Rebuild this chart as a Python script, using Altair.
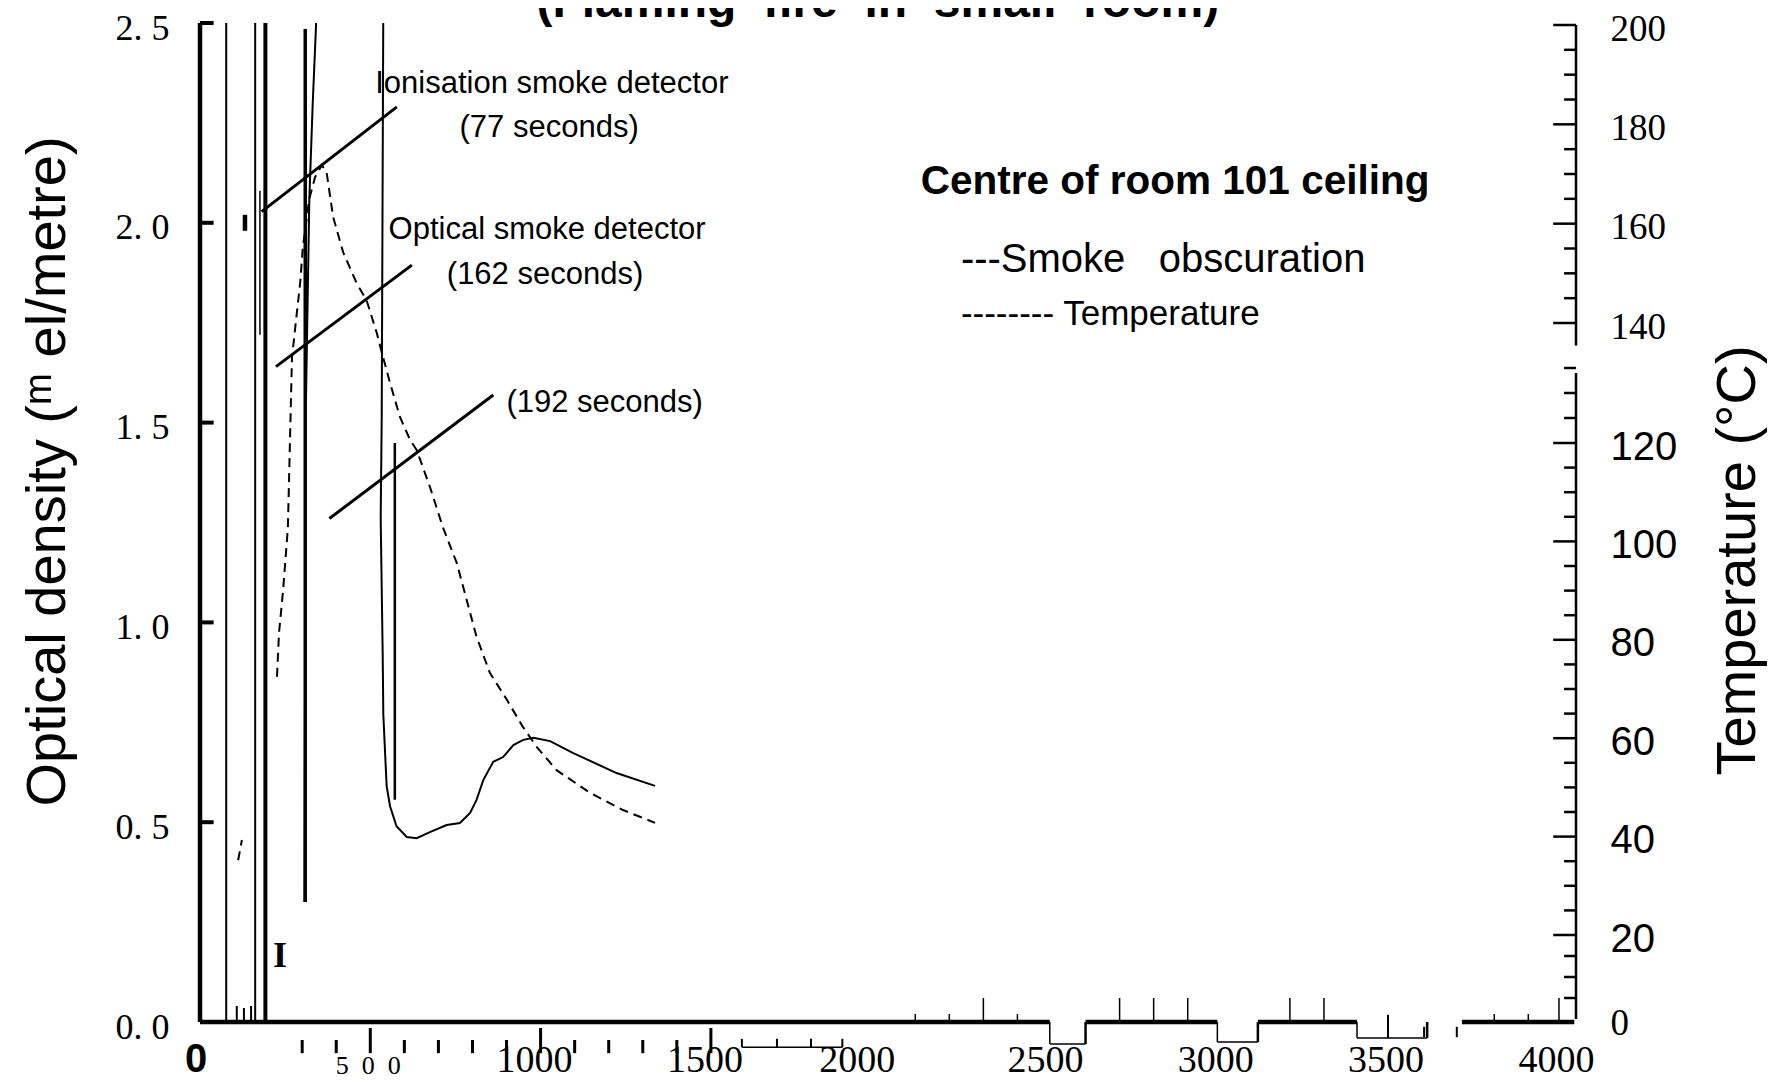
import altair as alt
import pandas as pd

W, H = 1376, 999
T_MAX = 4040

# ---------------- series ----------------
# Smoke obscuration (optical density, solid curve) in drawing order; >2.5 runs off the top
smoke_t = [307, 310, 321, 331, 341, 350, 528, 538, 533.5, 530.5, 536.4, 538.2, 548, 558, 577, 607, 636, 675,
           724, 763, 793, 812, 832, 861, 890, 920, 949, 979, 1028, 1096, 1223, 1336]
smoke_od = [0.30, 1.50, 2.06, 2.30, 2.50, 2.90, 2.90, 2.50, 1.51, 1.26, 0.92, 0.77, 0.59, 0.54, 0.49, 0.463, 0.460, 0.475,
            0.493, 0.498, 0.523, 0.556, 0.606, 0.651, 0.663, 0.693, 0.706, 0.711, 0.703, 0.673, 0.623, 0.591]

# Temperature (deg C, dashed curve)
temp_t = [112, 123, 226, 232, 244, 258, 270, 282, 294, 302, 314, 320, 338, 358, 372, 391, 421, 460, 489, 519,
          534, 558, 587, 617, 636, 675, 713, 754, 783, 812, 851, 901, 948, 989, 1047, 1145, 1242, 1336]
temp_c = [35.2, 39.3, 72.5, 81.4, 90.1, 102.7, 136.1, 140.6, 148.0, 155.3, 161.3, 164.8, 169.4, 171.8, 170.2, 161.3,
          154.1, 148.0, 144.6, 138.9, 136.7, 132.0, 125.2, 120.6, 118.6, 111.1, 102.9, 95.6, 88.1, 80.6, 73.3, 67.8,
          62.3, 58.2, 53.5, 48.9, 45.4, 42.8]
temp_seg = [0, 0, 1, 1, 1, 1, 1, 1, 1, 1, 1, 1, 1, 1, 1, 1, 1, 1, 1, 1,
            1, 1, 1, 1, 1, 1, 1, 1, 1, 1, 1, 1, 1, 1, 1, 1, 1, 1]

# detector-time markers and other vertical strokes
mark_t = [77, 162, 192, 309, 572, 176, 132]
mark_lo = [0.0, 0.0, 0.0, 0.30, 0.556, 1.72, 1.98]
mark_hi = [2.5, 2.5, 2.5, 2.485, 1.449, 2.08, 2.02]
mark_w = [2.0, 2.0, 4.0, 3.5, 2.5, 1.5, 4.5]

# leader lines from the detector labels
lead_t1 = [181, 223, 380]
lead_od1 = [2.028, 1.640, 1.260]
lead_t2 = [578, 622, 861]
lead_od2 = [2.290, 1.894, 1.569]

# annotations
note_text = ["Ionisation smoke detector", "(77 seconds)", "Optical smoke detector", "(162 seconds)", "(192 seconds)"]
note_t = [1033, 1025, 1019, 1013, 1188]
note_od = [2.325, 2.215, 1.959, 1.846, 1.527]

head_text = ["Centre of room 101 ceiling"]
head_t = [2863]
head_od = [2.072]

leg_text = ["---Smoke\u00a0\u00a0\u00a0obscuration", "-------- Temperature"]
leg_t = [2234, 2234]
leg_od = [1.877, 1.744]
leg_fs = [40, 35]

title_text = ["(Flaming\u00a0\u00a0fire\u00a0\u00a0in\u00a0\u00a0small\u00a0\u00a0room)"]
title_t = [1990]
title_od = [2.515]

mark_i_text = ["I"]
mark_i_t = [235]
mark_i_od = [0.138]

# axes
od_ticks = [0.0, 0.5, 1.0, 1.5, 2.0, 2.5]
x_zero_text = ["0"]
x_zero_t = [0]
x_500_text = ["5\u00a0\u00a00\u00a0\u00a00"]
x_500_t = [500]
x_500_od = -0.13
x_lab_text = ["1000", "1500", "2500", "3000", "3500", "4000"]
x_lab_t = [1000, 1500, 2500, 3000, 3500, 4000]
x_2000_text = ["2000"]
x_2000_t = [2000]
x_lab_od = -0.125
temp_labels = [0, 20, 40, 60, 80, 100, 120, 140, 160, 180, 200]
temp_major = [20, 40, 60, 80, 100, 120, 140, 160, 180, 200]
temp_minor = [5, 10, 15, 25, 30, 35, 45, 50, 55, 65, 70, 75, 85, 90, 95, 105, 110, 115, 125, 130, 135,
              145, 150, 155, 165, 170, 175, 185, 190, 195]
temp_axis_lo = [0, 137.5]
temp_axis_hi = [134, 200]

# broken time axis (scan) pieces
base_t1 = [0, 2600, 3106, 3705]
base_t2 = [2495, 2987, 3397, 4035]
notch_t1 = [2495, 2987, 3397]
notch_t2 = [2600, 3106, 3603]
notch_od = [-0.055, -0.05, -0.04]
hang_t = [300, 400, 500, 600, 700, 800, 900, 1000, 1100, 1200, 1300, 1400, 1500]
hang_major = [500, 1000, 1500]
brk_t = [1591, 1694, 1794, 1886]
up_t = [2100, 2200, 2300, 2400, 2700, 2800, 2900, 3200, 3300, 3800, 3900, 3990]
up_h = [0.02, 0.02, 0.06, 0.02, 0.06, 0.06, 0.06, 0.06, 0.06, 0.02, 0.02, 0.06]
odd_t = [3488, 3594, 3690, 108, 129, 150]
odd_lo = [-0.04, -0.038, -0.038, 0.0, 0.0, 0.0]
odd_hi = [0.018, -0.012, -0.012, 0.04, 0.035, 0.04]

# ---------------- tables ----------------
smoke_df = pd.DataFrame({"t": smoke_t, "od": smoke_od, "i": range(len(smoke_t))})
temp_df = pd.DataFrame({"t": temp_t, "temp": temp_c, "seg": temp_seg, "i": range(len(temp_t))})

rows = []
for t, lo, hi, w in zip(mark_t, mark_lo, mark_hi, mark_w):
    rows.append(dict(t1=t, t2=t, y1=lo, y2=hi, w=w))
for a, b, c, d in zip(lead_t1, lead_od1, lead_t2, lead_od2):
    rows.append(dict(t1=a, t2=c, y1=b, y2=d, w=3.0))
rows.append(dict(t1=0, t2=0, y1=0, y2=2.5, w=4.5))           # left axis line
for v in od_ticks:
    rows.append(dict(t1=0, t2=40, y1=v, y2=v, w=4.0))        # inward ticks
for a, b in zip(base_t1, base_t2):
    rows.append(dict(t1=a, t2=b, y1=0, y2=0, w=4.5))
for a, b, d in zip(notch_t1, notch_t2, notch_od):
    rows.append(dict(t1=a, t2=a, y1=0, y2=d, w=1.5))
    rows.append(dict(t1=a, t2=b, y1=d, y2=d, w=1.5))
    rows.append(dict(t1=b, t2=b, y1=d, y2=0, w=2.5))
for t in hang_t:
    top = -0.015 if t in hang_major else -0.045
    rows.append(dict(t1=t, t2=t, y1=top, y2=-0.078, w=3.0))
rows.append(dict(t1=brk_t[0], t2=brk_t[-1], y1=-0.063, y2=-0.063, w=1.5))
for t in brk_t:
    rows.append(dict(t1=t, t2=t, y1=-0.063, y2=-0.042, w=2.0))
for t, h in zip(up_t, up_h):
    rows.append(dict(t1=t, t2=t, y1=0, y2=h, w=1.5))
for t, lo, hi in zip(odd_t, odd_lo, odd_hi):
    rows.append(dict(t1=t, t2=t, y1=lo, y2=hi, w=2.0))
seg_df = pd.DataFrame(rows)

trows = []
for lo, hi in zip(temp_axis_lo, temp_axis_hi):
    trows.append(dict(t1=T_MAX, t2=T_MAX, c1=lo, c2=hi, w=2.5))
for v in temp_major:
    trows.append(dict(t1=T_MAX - 67, t2=T_MAX, c1=v, c2=v, w=2.5))
for v in temp_minor:
    trows.append(dict(t1=T_MAX - 35, t2=T_MAX, c1=v, c2=v, w=2.5))
tseg_df = pd.DataFrame(trows)

# ---------------- scales / axes ----------------
x_scale = alt.Scale(domain=[0, T_MAX], nice=False, zero=False)
od_scale = alt.Scale(domain=[0, 2.5], nice=False, zero=False)
temp_scale = alt.Scale(domain=[0, 20, 120, 135, 140, 200], range=[996, 912, 420, 345, 300, 2],
                       nice=False, zero=False)

left_axis = alt.Axis(
    orient="left", values=od_ticks,
    labelExpr="replace(format(datum.value, '.1f'), '.', '. ')",
    domain=False, ticks=False, tickSize=0, grid=False,
    labelFont="Liberation Serif", labelFontSize=36, labelPadding=31, labelColor="black",
    labelFlush=False, labelOverlap=False, labelOffset=5,
    title="Optical density (\u1d50 el/metre)", titleFont="Liberation Sans", titleFontSize=56,
    titleFontWeight="normal", titleColor="black", titleAngle=270, titleX=-136, titleY=448,
    titleAlign="center", titleBaseline="alphabetic",
)
right_axis = alt.Axis(
    orient="right", values=temp_labels, format="d",
    domain=False, ticks=False, tickSize=0, grid=False,
    labelFont={"condition": {"test": "datum.value >= 140 || datum.value == 0", "value": "Liberation Serif"},
               "value": "Liberation Sans"},
    labelFontSize={"condition": {"test": "datum.value >= 140 || datum.value == 0", "value": 37}, "value": 40},
    labelPadding=34, labelColor="black", labelFlush=False, labelOverlap=False, labelOffset=4,
    title="Temperature (\u00b0C)", titleFont="Liberation Sans", titleFontSize=56,
    titleFontWeight="normal", titleColor="black", titleAngle=270, titleX=178, titleY=537,
    titleAlign="center", titleBaseline="alphabetic",
)


def X(field="t"):
    return alt.X(f"{field}:Q", scale=x_scale, axis=None)


def Yod(field="od"):
    return alt.Y(f"{field}:Q", scale=od_scale, axis=None)


# ---------------- layers ----------------
smoke = alt.Chart(smoke_df).mark_line(color="black", strokeWidth=2, clip=True).encode(
    x=X("t"), y=alt.Y("od:Q", scale=od_scale, axis=left_axis), order="i:Q")

temp = alt.Chart(temp_df).mark_line(color="black", strokeWidth=2, strokeDash=[9, 6], clip=True).encode(
    x=X(), y=alt.Y("temp:Q", scale=temp_scale, axis=right_axis), detail="seg:N", order="i:Q")

segs = alt.Chart(seg_df).mark_rule(color="black").encode(
    x=X("t1"), x2="t2:Q", y=Yod("y1"), y2="y2:Q", strokeWidth=alt.StrokeWidth("w:Q", scale=None))

tsegs = alt.Chart(tseg_df).mark_rule(color="black").encode(
    x=X("t1"), x2="t2:Q", y=alt.Y("c1:Q", scale=temp_scale, axis=None), y2="c2:Q",
    strokeWidth=alt.StrokeWidth("w:Q", scale=None))


def texts(txt, ts, ods, font, size, weight, align, sizes=None, dx=0):
    if not isinstance(ods, list):
        ods = [ods] * len(txt)
    df = pd.DataFrame({"text": txt, "t": ts, "od": ods})
    enc = dict(x=X(), y=Yod(), text="text:N")
    mk = dict(font=font, fontWeight=weight, align=align, baseline="alphabetic", color="black", dx=dx)
    if sizes is not None:
        df["fs"] = sizes
        enc["size"] = alt.Size("fs:Q", scale=None, legend=None)
    else:
        mk["fontSize"] = size
    return alt.Chart(df).mark_text(**mk).encode(**enc)


notes = texts(note_text, note_t, note_od, "Liberation Sans", 31, "normal", "center")
head = texts(head_text, head_t, head_od, "Liberation Sans", 40.5, "bold", "center")
legend = texts(leg_text, leg_t, leg_od, "Liberation Sans", 36, "normal", "left", sizes=leg_fs)
title = texts(title_text, title_t, title_od, "Liberation Sans", 48, "bold", "center")
mark_i = texts(mark_i_text, mark_i_t, mark_i_od, "Liberation Serif", 36, "bold", "center")
xl0 = texts(x_zero_text, x_zero_t, x_lab_od, "Liberation Sans", 40, "bold", "center", dx=-4)
xl500 = texts(x_500_text, x_500_t, x_500_od, "Liberation Serif", 26, "normal", "center", dx=-2)
xlab = texts(x_lab_text, x_lab_t, x_lab_od, "Liberation Serif", 38, "normal", "center", dx=-6)
xl2000 = texts(x_2000_text, x_2000_t, x_lab_od, "Liberation Serif", 38, "normal", "center", dx=-24)

chart = alt.layer(smoke, temp, segs, tsegs, notes, head, legend, title, mark_i,
                  xl0, xl500, xlab, xl2000).resolve_scale(
    y="independent"
).properties(
    width=W, height=H,
    autosize=alt.AutoSizeParams(type="none"),
    padding={"left": 192, "top": 15, "right": 192, "bottom": 57},
    background="white",
).configure_view(stroke=None)

chart.save("out.html", embed_options={"renderer": "svg", "actions": False})
